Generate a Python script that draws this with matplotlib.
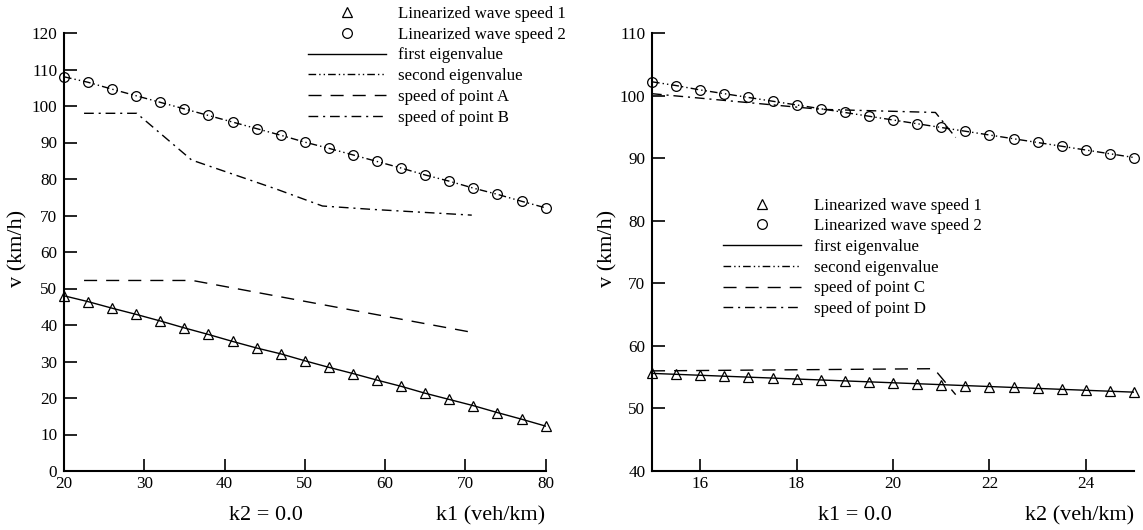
import matplotlib
matplotlib.use("Agg")
import matplotlib.pyplot as plt
from matplotlib.lines import Line2D

plt.rcParams['font.family'] = ['Liberation Serif', 'DejaVu Serif']

# ---------------- Left panel data (k2 = 0.0) ----------------
k1 = [20, 23, 26, 29, 32, 35, 38, 41, 44, 47, 50, 53, 56, 59, 62, 65, 68, 71, 74, 77, 80]
wave1_left = [48.0, 46.4, 44.6, 42.9, 41.1, 39.2, 37.4, 35.5, 33.7, 32.1, 30.2,
              28.4, 26.7, 24.9, 23.2, 21.3, 19.6, 17.9, 16.0, 14.2, 12.3]
wave2_left = [108.0, 106.5, 104.6, 102.8, 101.0, 99.2, 97.4, 95.6, 93.8, 92.0, 90.1,
              88.4, 86.6, 84.8, 83.0, 81.1, 79.4, 77.5, 75.8, 73.9, 72.1]
ptA_x = [22.5, 36.0, 70.8]
ptA_y = [52.2, 52.2, 38.0]
ptB_x = [22.5, 29.06, 35.9, 46.5, 52.2, 58.2, 70.8]
ptB_y = [98.0, 98.0, 85.2, 77.2, 72.6, 71.7, 70.1]

# ---------------- Right panel data (k1 = 0.0) ----------------
k2 = [15, 15.5, 16, 16.5, 17, 17.5, 18, 18.5, 19, 19.5, 20, 20.5, 21, 21.5, 22, 22.5,
      23, 23.5, 24, 24.5, 25]
wave1_right = [55.6, 55.45, 55.3, 55.15, 55.0, 54.85, 54.7, 54.55, 54.4, 54.25, 54.1,
               53.95, 53.8, 53.65, 53.5, 53.35, 53.2, 53.05, 52.9, 52.75, 52.6]
wave2_right = [102.2, 101.6, 100.9, 100.3, 99.7, 99.1, 98.5, 97.9, 97.3, 96.7, 96.1,
               95.5, 94.9, 94.3, 93.7, 93.1, 92.5, 91.9, 91.3, 90.7, 90.1]
ptC_x = [15.0, 20.85, 21.3]
ptC_y = [56.0, 56.35, 52.2]
ptD_x = [15.0, 18.5, 20.88, 21.3]
ptD_y = [100.3, 97.8, 97.3, 93.3]

labels_left = ["Linearized wave speed 1", "Linearized wave speed 2", "first eigenvalue",
               "second eigenvalue", "speed of point A", "speed of point B"]
labels_right = ["Linearized wave speed 1", "Linearized wave speed 2", "first eigenvalue",
                "second eigenvalue", "speed of point C", "speed of point D"]

# ---------------- styles ----------------
W, H = 1143, 530
DASHED = (0, (9.4, 6.5))
DASHDOT = (0, (7, 3.5, 1.5, 3.5))
DASHDOTDOT = (0, (5.5, 2.2, 1.0, 2.2, 1.0, 2.2))
LW = 1.0
MS_TRI = 6.5
MS_CIR = 7.0
MEW = 0.9

fig = plt.figure(figsize=(W / 100, H / 100), dpi=100)


def px_rect(x0, x1, ytop, ybot):
    return [x0 / W, 1 - ybot / H, (x1 - x0) / W, (ybot - ytop) / H]


axL = fig.add_axes(px_rect(64, 545.6, 33, 471))
axR = fig.add_axes(px_rect(652, 1134, 33, 471))


def style_axes(ax):
    for s in ['top', 'right']:
        ax.spines[s].set_visible(False)
    for s in ['left', 'bottom']:
        ax.spines[s].set_linewidth(1.5)
    ax.tick_params(direction='in', length=9, width=1.2, labelsize=12.3)
    ax.tick_params(axis='y', pad=4.8)
    ax.tick_params(axis='x', pad=3.5)


def handles():
    return [
        Line2D([], [], ls='none', marker='^', mfc='none', mec='k', ms=MS_TRI, mew=MEW),
        Line2D([], [], ls='none', marker='o', mfc='none', mec='k', ms=MS_CIR, mew=MEW),
        Line2D([], [], color='k', lw=LW, ls='-'),
        Line2D([], [], color='k', lw=LW, ls=DASHDOTDOT),
        Line2D([], [], color='k', lw=LW, ls=DASHED),
        Line2D([], [], color='k', lw=LW, ls=DASHDOT),
    ]


# ---- left ----
ax = axL
ax.plot(k1, wave1_left, color='k', lw=LW, ls='-')
ax.plot(k1, wave2_left, color='k', lw=LW, ls=DASHDOTDOT)
ax.plot(ptA_x, ptA_y, color='k', lw=LW, ls=DASHED)
ax.plot(ptB_x, ptB_y, color='k', lw=LW, ls=DASHDOT)
ax.plot(k1, wave1_left, ls='none', marker='^', mfc='none', mec='k', ms=MS_TRI, mew=MEW, clip_on=False)
ax.plot(k1, wave2_left, ls='none', marker='o', mfc='none', mec='k', ms=MS_CIR, mew=MEW, clip_on=False)
ax.set_xlim(20, 80)
ax.set_ylim(0, 120)
ax.set_xticks(range(20, 81, 10))
ax.set_yticks(range(0, 121, 10))
style_axes(ax)
ax.legend(handles(), labels_left, loc='upper left',
          bbox_to_anchor=(307.8 / W, 1 - 6 / H), bbox_transform=fig.transFigure,
          frameon=False, borderpad=0, borderaxespad=0, fontsize=12.2,
          handlelength=4.6, handletextpad=0.75, labelspacing=0.28, numpoints=1)

# ---- right ----
ax = axR
ax.plot(k2, wave1_right, color='k', lw=LW, ls='-')
ax.plot(k2, wave2_right, color='k', lw=LW, ls=DASHDOTDOT)
ax.plot(ptC_x, ptC_y, color='k', lw=LW, ls=DASHED)
ax.plot(ptD_x, ptD_y, color='k', lw=LW, ls=DASHDOT)
ax.plot(k2, wave1_right, ls='none', marker='^', mfc='none', mec='k', ms=MS_TRI, mew=MEW, clip_on=False)
ax.plot(k2, wave2_right, ls='none', marker='o', mfc='none', mec='k', ms=MS_CIR, mew=MEW, clip_on=False)
ax.set_xlim(15, 25)
ax.set_ylim(40, 110)
ax.set_xticks([16, 18, 20, 22, 24])
ax.set_yticks(range(40, 111, 10))
style_axes(ax)
ax.legend(handles(), labels_right, loc='upper left',
          bbox_to_anchor=(723 / W, 1 - 197.5 / H), bbox_transform=fig.transFigure,
          frameon=False, borderpad=0, borderaxespad=0, fontsize=12.2,
          handlelength=4.6, handletextpad=0.75, labelspacing=0.28, numpoints=1)

# ---- texts ----
def ftext(x, y, s, **kw):
    fig.text(x / W, 1 - y / H, s, **kw)

ftext(265.7, 520, "k2 = 0.0", ha='center', va='baseline', fontsize=16)
ftext(545.6, 520, "k1 (veh/km)", ha='right', va='baseline', fontsize=16)
ftext(854.7, 520, "k1 = 0.0", ha='center', va='baseline', fontsize=16)
ftext(1134, 520, "k2 (veh/km)", ha='right', va='baseline', fontsize=16)
ftext(17.6, 248, "v (km/h)", ha='center', va='center', rotation=90, fontsize=16)
ftext(608, 248, "v (km/h)", ha='center', va='center', rotation=90, fontsize=16)

fig.savefig("out.png", dpi=100)
